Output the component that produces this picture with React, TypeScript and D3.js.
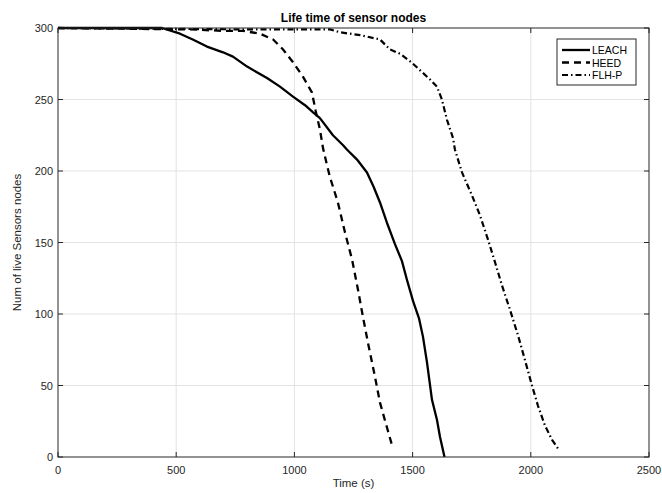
import React from "react";
import * as d3 from "d3";

const W = 662;
const H = 493;

const xTicks = [0, 500, 1000, 1500, 2000, 2500];
const yTicks = [0, 50, 100, 150, 200, 250, 300];

const leachT = [0, 440, 516, 570, 630, 698, 740, 800, 884, 939, 994, 1045, 1079, 1108, 1163, 1206, 1222, 1265, 1307, 1335, 1362, 1391, 1425, 1455, 1476, 1502, 1527, 1544, 1561, 1582, 1603, 1616, 1635];
const leachN = [300, 300, 296, 292, 287, 283, 280, 273, 265, 259, 252, 246, 241, 237, 225, 218, 215, 208, 199, 189, 178, 164, 149, 137, 124, 109, 97, 84, 66, 40, 26, 14, 0];

const heedT = [0, 560, 700, 783, 855, 910, 952, 994, 1036, 1074, 1090, 1108, 1121, 1138, 1150, 1184, 1214, 1244, 1269, 1290, 1311, 1341, 1362, 1391, 1415];
const heedN = [300, 299, 298, 298, 296, 292, 285, 276, 266, 255, 242, 229, 216, 204, 196, 178, 157, 138, 117, 98, 80, 56, 38, 21, 7];

const flhT = [0, 800, 1150, 1193, 1278, 1362, 1404, 1447, 1495, 1574, 1603, 1624, 1645, 1671, 1679, 1709, 1751, 1785, 1819, 1849, 1878, 1912, 1946, 1975, 2005, 2030, 2060, 2090, 2115];
const flhN = [300, 299, 299, 297, 295, 292, 285, 282, 276, 264, 259, 250, 236, 223, 215, 199, 183, 169, 152, 136, 120, 103, 85, 68, 50, 36, 22, 12, 6];

const seriesNames = ["LEACH", "HEED", "FLH-P"];

const FONT = "'Liberation Sans', Arial, Helvetica, sans-serif";

export default function App() {
  const left = 58, right = 649, top = 28, bottom = 457;
  const x = d3.scaleLinear().domain([0, 2500]).range([left, right]);
  const y = d3.scaleLinear().domain([0, 300]).range([bottom, top]);

  const line = d3
    .line<[number, number]>()
    .x((d) => x(d[0]))
    .y((d) => y(d[1]));

  const zip = (a: number[], b: number[]) => a.map((v, i) => [v, b[i]] as [number, number]);

  const series = [
    { name: seriesNames[0], data: zip(leachT, leachN), dash: "none", w: 2.3 },
    { name: seriesNames[1], data: zip(heedT, heedN), dash: "7,5", w: 2.3 },
    { name: seriesNames[2], data: zip(flhT, flhN), dash: "6,3,1.5,3", w: 2.2 },
  ];

  const axisColor = "#262626";
  const gridColor = "#e3e3e3";

  const legX = 557, legY = 39, legW = 79, legH = 46;
  const rowY = [50, 62.5, 75];

  return (
    <svg
      width={W}
      height={H}
      style={{ position: "absolute", left: 0, top: 0, background: "#fff" }}
      fontFamily={FONT}
    >
      <rect x={0} y={0} width={W} height={H} fill="#fff" />
      {xTicks.slice(1, -1).map((t) => (
        <line key={"gx" + t} x1={x(t)} x2={x(t)} y1={top} y2={bottom} stroke={gridColor} strokeWidth={1} />
      ))}
      {yTicks.slice(1, -1).map((t) => (
        <line key={"gy" + t} x1={left} x2={right} y1={y(t)} y2={y(t)} stroke={gridColor} strokeWidth={1} />
      ))}
      {xTicks.map((t) => (
        <g key={"tx" + t}>
          <line x1={x(t)} x2={x(t)} y1={bottom} y2={bottom - 5} stroke={axisColor} />
          <line x1={x(t)} x2={x(t)} y1={top} y2={top + 5} stroke={axisColor} />
          <text x={x(t)} y={474} textAnchor="middle" fontSize={11} fill={axisColor}>
            {t}
          </text>
        </g>
      ))}
      {yTicks.map((t) => (
        <g key={"ty" + t}>
          <line x1={left} x2={left + 5} y1={y(t)} y2={y(t)} stroke={axisColor} />
          <line x1={right} x2={right - 5} y1={y(t)} y2={y(t)} stroke={axisColor} />
          <text x={53} y={y(t) + 4} textAnchor="end" fontSize={11} fill={axisColor}>
            {t}
          </text>
        </g>
      ))}
      {series.map((s) => (
        <path
          key={s.name}
          d={line(s.data) || ""}
          fill="none"
          stroke="#000"
          strokeWidth={s.w}
          strokeDasharray={s.dash}
          strokeLinejoin="round"
        />
      ))}
      <rect x={left} y={top} width={right - left} height={bottom - top} fill="none" stroke={axisColor} strokeWidth={1} />
      <rect x={legX} y={legY} width={legW} height={legH} fill="#fff" stroke={axisColor} strokeWidth={1} />
      {series.map((s, i) => (
        <g key={"lg" + s.name}>
          <line x1={562} x2={590} y1={rowY[i]} y2={rowY[i]} stroke="#000" strokeWidth={s.w} strokeDasharray={s.dash} />
          <text x={592} y={rowY[i] + 4} fontSize={10.5} fill="#000">
            {s.name}
          </text>
        </g>
      ))}
      <text x={(left + right) / 2} y={22} textAnchor="middle" fontSize={12} fontWeight="bold" fill="#000">
        Life time of sensor nodes
      </text>
      <text x={(left + right) / 2} y={487} textAnchor="middle" fontSize={11.5} fill={axisColor}>
        Time (s)
      </text>
      <text
        transform={`translate(21,${(top + bottom) / 2}) rotate(-90)`}
        textAnchor="middle"
        fontSize={11.5}
        fill={axisColor}
      >
        Num of live Sensors nodes
      </text>
    </svg>
  );
}
